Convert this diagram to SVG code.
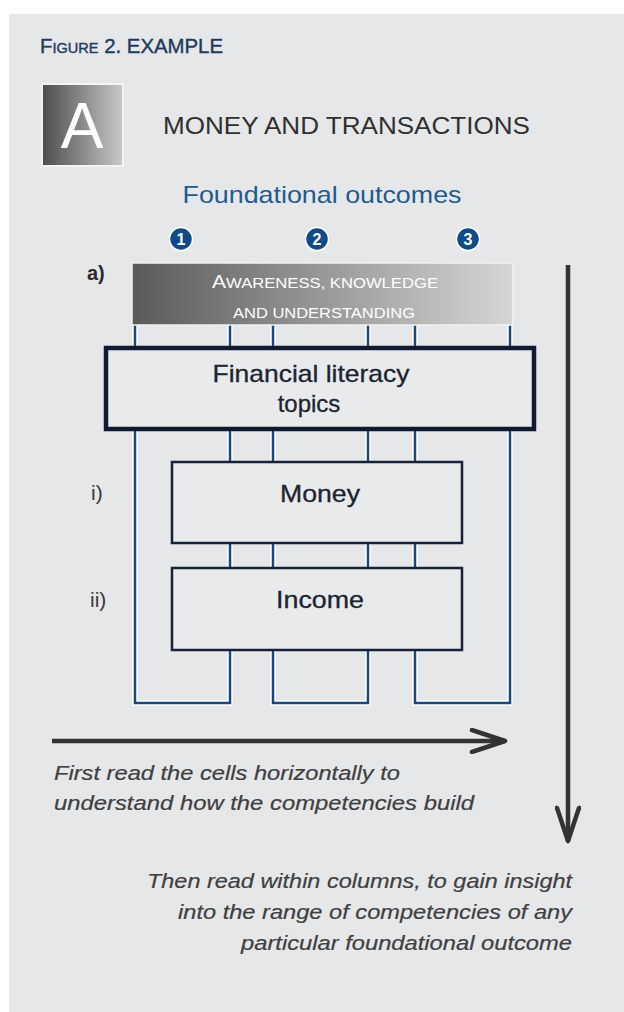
<svg xmlns="http://www.w3.org/2000/svg" width="624" height="1012" viewBox="0 0 624 1012">
<defs>
<linearGradient id="gA" x1="0" y1="0" x2="1" y2="0"><stop offset="0" stop-color="#4c4c4c"/><stop offset="1" stop-color="#c9c9c9"/></linearGradient>
<linearGradient id="gAw" x1="0" y1="0" x2="1" y2="0"><stop offset="0" stop-color="#5a5a5a"/><stop offset="1" stop-color="#d6d6d6"/></linearGradient>
<marker id="chev" viewBox="0 0 40 26" refX="36" refY="13" markerWidth="40" markerHeight="26" markerUnits="userSpaceOnUse" orient="auto">
<path d="M3,2 L36,13 L3,24" fill="none" stroke="#333" stroke-width="4.5" stroke-linecap="round" stroke-linejoin="round"/>
</marker>
<style>
.sans{font-family:"Liberation Sans",Arial,sans-serif}
.halo{fill:none;stroke:#ffffff;stroke-width:5.5;stroke-linejoin:miter}
.col{fill:none;stroke:#1b467a;stroke-width:2.5;stroke-linejoin:miter}
.box{fill:#e9eaec;stroke:#17223a;stroke-width:2.5}
.big{fill:#e9eaec;stroke:#101a30;stroke-width:4.5}
.lbl{font-family:"Liberation Sans",Arial,sans-serif;font-size:24px;fill:#1c2430;text-anchor:middle;stroke:#1c2430;stroke-width:0.3}
.num{font-family:"Liberation Sans",Arial,sans-serif;font-size:16px;font-weight:bold;fill:#fff;text-anchor:middle}
.circ{fill:#0f4b86;stroke:#fff;stroke-width:1.5}
.row{font-family:"Liberation Sans",Arial,sans-serif;font-size:21px;fill:#3a3a3a}
.note{font-family:"Liberation Sans",Arial,sans-serif;font-size:20px;font-style:italic;fill:#404040;stroke:#404040;stroke-width:0.2}
.arrow{fill:none;stroke:#333;stroke-width:4.5;stroke-linecap:butt}
</style>
</defs>
<rect x="0" y="0" width="624" height="1012" fill="#ffffff"/>
<rect x="9" y="14" width="615" height="998" fill="#e6e7e9"/>

<g id="title">
<text class="sans" x="40" y="53" fill="#1e3a5f" stroke="#1e3a5f" stroke-width="0.4" font-size="21" textLength="183" lengthAdjust="spacingAndGlyphs">F<tspan font-size="15">IGURE</tspan> 2. EXAMPLE</text>
</g>

<g id="badge">
<rect x="42" y="84" width="81" height="82" fill="url(#gA)" stroke="#f4f4f4" stroke-width="2"/>
<text class="sans" x="82" y="148" font-size="64" fill="#ffffff" text-anchor="middle">A</text>
</g>

<g id="heading">
<text class="sans" x="163" y="134" font-size="24" fill="#303030" textLength="367" lengthAdjust="spacingAndGlyphs">MONEY AND TRANSACTIONS</text>
</g>

<g id="outcomes">
<text class="sans" x="322" y="203" font-size="24" fill="#1f5a93" text-anchor="middle" textLength="279" lengthAdjust="spacingAndGlyphs">Foundational outcomes</text>
<circle class="circ" cx="181" cy="239" r="11.5"/>
<text class="num" x="181" y="245">1</text>
<circle class="circ" cx="317" cy="239" r="11.5"/>
<text class="num" x="317" y="245">2</text>
<circle class="circ" cx="468" cy="239" r="11.5"/>
<text class="num" x="468" y="245">3</text>
</g>

<g id="connectors">
<path class="halo" d="M135,325 V703 H230 V650 M230,568 V543 M230,462 V430 M230,347 V325 M273,325 V347 M273,430 V462 M273,543 V568 M273,650 V703 H368 V650 M368,568 V543 M368,462 V430 M368,347 V325 M415,325 V347 M415,430 V462 M415,543 V568 M415,650 V703 H510 V325"/>
<path class="col" d="M135,325 V703 H230 V650 M230,568 V543 M230,462 V430 M230,347 V325 M273,325 V347 M273,430 V462 M273,543 V568 M273,650 V703 H368 V650 M368,568 V543 M368,462 V430 M368,347 V325 M415,325 V347 M415,430 V462 M415,543 V568 M415,650 V703 H510 V325"/>
</g>

<g id="awareness">
<text class="sans" x="87" y="280" font-size="20" font-weight="bold" fill="#2a2a2a">a)</text>
<rect x="132" y="263" width="381" height="62" fill="url(#gAw)" stroke="#f2f2f2" stroke-width="1.5"/>
<text class="sans" x="325" y="288" font-size="15" fill="#ffffff" text-anchor="middle" textLength="226" lengthAdjust="spacingAndGlyphs"><tspan font-size="19">A</tspan>WARENESS, KNOWLEDGE</text>
<text class="sans" x="324" y="318" font-size="15" fill="#ffffff" text-anchor="middle" textLength="182" lengthAdjust="spacingAndGlyphs">AND UNDERSTANDING</text>
</g>

<g id="financial">
<rect class="big" x="106" y="348" width="428" height="81"/>
<text class="lbl" x="311" y="382" textLength="197" lengthAdjust="spacingAndGlyphs">Financial literacy</text>
<text class="lbl" x="309" y="412">topics</text>
</g>

<g id="money">
<text class="row" x="91" y="500">i)</text>
<rect class="box" x="172" y="462" width="290" height="81"/>
<text class="lbl" x="320" y="502" textLength="80" lengthAdjust="spacingAndGlyphs">Money</text>
</g>

<g id="income">
<text class="row" x="90" y="607">ii)</text>
<rect class="box" x="172" y="568" width="290" height="82"/>
<text class="lbl" x="320" y="608" textLength="88" lengthAdjust="spacingAndGlyphs">Income</text>
</g>

<g id="reading-arrows">
<line class="arrow" x1="52" y1="741" x2="505" y2="741" marker-end="url(#chev)"/>
<line class="arrow" x1="568" y1="265" x2="568" y2="841" marker-end="url(#chev)"/>
</g>

<g id="notes">
<text class="note" x="54" y="780" textLength="346" lengthAdjust="spacingAndGlyphs">First read the cells horizontally to</text>
<text class="note" x="54" y="810" textLength="420" lengthAdjust="spacingAndGlyphs">understand how the competencies build</text>
<text class="note" x="572" y="888" text-anchor="end" textLength="425" lengthAdjust="spacingAndGlyphs">Then read within columns, to gain insight</text>
<text class="note" x="572" y="919" text-anchor="end" textLength="394" lengthAdjust="spacingAndGlyphs">into the range of competencies of any</text>
<text class="note" x="572" y="950" text-anchor="end" textLength="331" lengthAdjust="spacingAndGlyphs">particular foundational outcome</text>
</g>
</svg>
